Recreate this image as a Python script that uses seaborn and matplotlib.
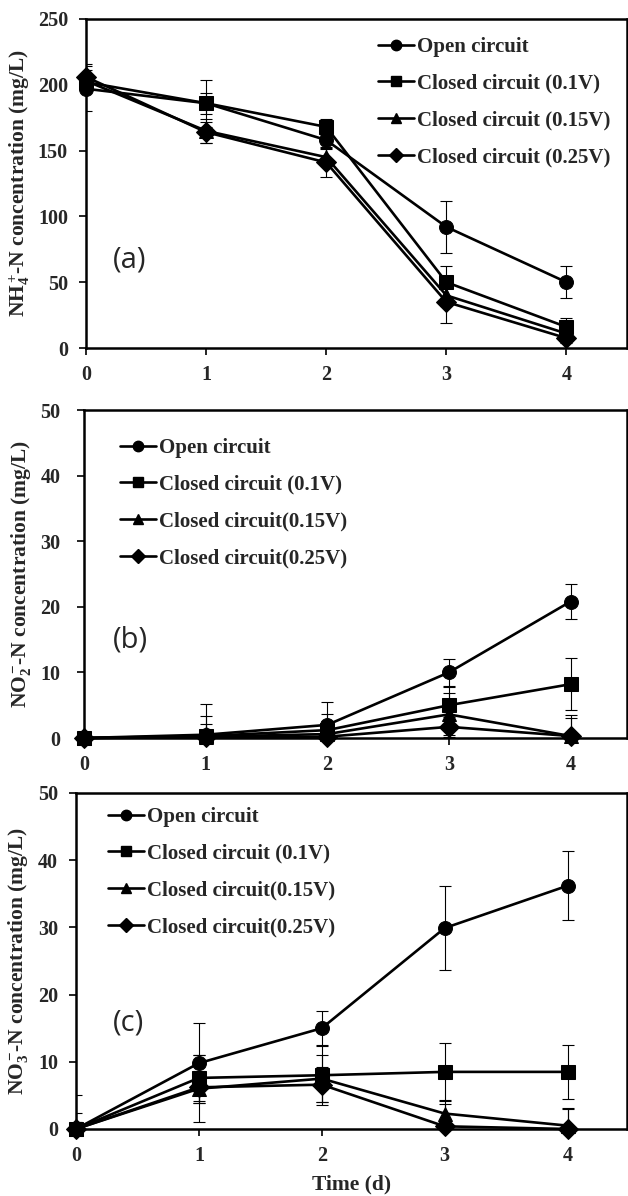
import numpy as np
import pandas as pd
import seaborn as sns
import matplotlib.pyplot as plt
from matplotlib.lines import Line2D

# data (mg/L), days 0-4
days = [0, 1, 2, 3, 4]
markers = ['o', 's', '^', 'D']

labels_a = ['Open circuit', 'Closed circuit (0.1V)', 'Closed circuit (0.15V)', 'Closed circuit (0.25V)']
labels_bc = ['Open circuit', 'Closed circuit (0.1V)', 'Closed circuit(0.15V)', 'Closed circuit(0.25V)']

nh4_open = [197, 186, 158, 92, 50]
nh4_c010 = [202, 186, 168, 50, 16]
nh4_c015 = [203, 165, 145, 40, 11]
nh4_c025 = [206, 164, 141, 35, 7.5]
nh4_err_open = [17, 18, 5, 20, 12]
nh4_err_c010 = [5, 8, 6, 12, 7]
nh4_err_c015 = [8, 9, 6, 8, 5]
nh4_err_c025 = [10, 8, 11, 16, 4]

no2_open = [0, 0.5, 2.0, 10.0, 20.8]
no2_c010 = [0, 0.3, 1.2, 5.0, 8.2]
no2_c015 = [0, 0.2, 0.6, 3.6, 0.3]
no2_c025 = [0, 0.1, 0.2, 1.7, 0.3]
no2_err_open = [0, 4.7, 3.5, 2.0, 2.7]
no2_err_c010 = [0, 3.0, 2.5, 2.8, 4.0]
no2_err_c015 = [0, 2.0, 2.0, 3.2, 3.2]
no2_err_c025 = [0, 1.0, 1.0, 1.5, 2.8]

no3_open = [0, 9.8, 15.0, 29.9, 36.2]
no3_c010 = [0, 7.6, 8.0, 8.5, 8.5]
no3_c015 = [0, 6.0, 7.5, 2.3, 0.5]
no3_c025 = [0, 6.2, 6.6, 0.4, 0.0]
no3_err_open = [5.0, 5.9, 2.6, 6.2, 5.1]
no3_err_c010 = [2.4, 3.4, 4.5, 4.3, 4.0]
no3_err_c015 = [1.0, 5.0, 3.5, 2.0, 2.6]
no3_err_c025 = [1.0, 2.4, 2.6, 3.3, 3.0]

sns.set_style('ticks')
plt.rcParams['font.family'] = ['Liberation Serif', 'DejaVu Serif']
plt.rcParams['font.weight'] = 'bold'
plt.rcParams['axes.labelweight'] = 'bold'
plt.rcParams['mathtext.fontset'] = 'custom'
plt.rcParams['mathtext.rm'] = 'Liberation Serif:bold'
plt.rcParams['mathtext.it'] = 'Liberation Serif:bold'
plt.rcParams['mathtext.bf'] = 'Liberation Serif:bold'

W, H = 628, 1196
fig = plt.figure(figsize=(W / 100, H / 100), dpi=100)


def make_ax(left, top, bottom, right=626.5):
    return fig.add_axes([left / W, 1 - bottom / H, (right - left) / W, (bottom - top) / H])


def draw_panel(ax, vals, errs, labels, ylim, yticks, ylabel, letter, letter_pos, leg_xy, xmax, label_x, tick_pad):
    rows = []
    for lab, v in zip(labels, vals):
        for d, c in zip(days, v):
            rows.append({'day': d, 'conc': c, 'series': lab})
    df = pd.DataFrame(rows)

    for v, e in zip(vals, errs):
        ax.errorbar(days, v, yerr=e, fmt='none', ecolor='black', elinewidth=0.8,
                    capsize=4, capthick=0.8, zorder=1)

    n_before = len(ax.lines)
    sns.lineplot(data=df, x='day', y='conc', style='series', style_order=labels,
                 markers=markers, dashes=False, color='black', linewidth=1.9,
                 markersize=10, markeredgecolor='black', ax=ax, legend=False, zorder=3)
    for ln in ax.lines[n_before:]:
        ln.set_clip_on(False)

    ax.set_xlim(0, xmax)
    ax.set_ylim(*ylim)
    ax.set_xticks(days)
    ax.set_yticks(yticks)
    ax.set_xlabel('')
    ax.set_ylabel(ylabel, fontsize=15.5)
    bb = ax.get_position()
    ax.yaxis.set_label_coords((label_x - bb.x0 * W) / (bb.width * W), 0.5)
    ax.tick_params(direction='out', length=5, width=1.2, labelsize=14.5, color='black')
    ax.tick_params(axis='y', pad=tick_pad)
    ax.tick_params(axis='x', pad=7)
    for s in ax.spines.values():
        s.set_visible(True)
        s.set_linewidth(1.8)
        s.set_color('black')

    ax.text(letter_pos[0], letter_pos[1], letter, transform=ax.transAxes, fontsize=21,
            family=['Open Sans', 'DejaVu Sans'], fontweight='normal', ha='center', va='center')

    handles = [Line2D([], [], color='black', marker=m, markersize=7.5, linewidth=1.9) for m in markers]
    ax.legend(handles, labels, loc='upper left', bbox_to_anchor=(leg_xy[0] / W, 1 - leg_xy[1] / H),
              bbox_transform=fig.transFigure, frameon=False, fontsize=15, borderpad=0,
              handlelength=1.75, handletextpad=0.1, labelspacing=0.8, borderaxespad=0)


ax_a = make_ax(86, 19, 348)
draw_panel(ax_a,
           [nh4_open, nh4_c010, nh4_c015, nh4_c025],
           [nh4_err_open, nh4_err_c010, nh4_err_c015, nh4_err_c025],
           labels_a, (0, 250), [0, 50, 100, 150, 200, 250],
           r'NH$_4^+\!$-N concentration (mg/L)', '(a)', (0.081, 0.267),
           (378, 37), 4.5, 32, 8)

ax_b = make_ax(84, 410, 738)
draw_panel(ax_b,
           [no2_open, no2_c010, no2_c015, no2_c025],
           [no2_err_open, no2_err_c010, no2_err_c015, no2_err_c025],
           labels_bc, (0, 50), [0, 10, 20, 30, 40, 50],
           r'NO$_2^-\!$-N concentration (mg/L)', '(b)', (0.086, 0.30),
           (120, 438), 4.46, 33, 12)

ax_c = make_ax(76, 793, 1129)
draw_panel(ax_c,
           [no3_open, no3_c010, no3_c015, no3_c025],
           [no3_err_open, no3_err_c010, no3_err_c015, no3_err_c025],
           labels_bc, (0, 50), [0, 10, 20, 30, 40, 50],
           r'NO$_3^-\!$-N concentration (mg/L)', '(c)', (0.096, 0.315),
           (108, 807), 4.48, 30, 8)
ax_c.set_xlabel('Time (d)', fontsize=15.5, labelpad=6)

fig.savefig('out.png', dpi=100)
